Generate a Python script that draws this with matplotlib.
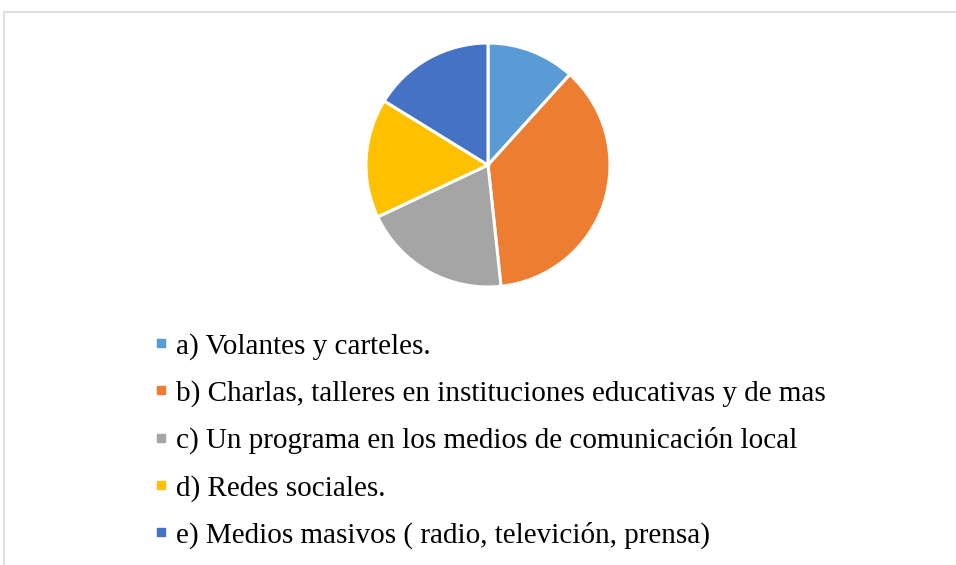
import matplotlib
import matplotlib.pyplot as plt
from matplotlib.lines import Line2D
from matplotlib.patches import Rectangle

matplotlib.rc("font", family="Liberation Serif")

# Data (share of answers)
labels = [
    "a) Volantes y carteles.",
    "b) Charlas, talleres en instituciones educativas y de mas",
    "c) Un programa en los medios de comunicación local",
    "d) Redes sociales.",
    "e) Medios masivos ( radio, televición, prensa)",
]
values = [11.7, 36.6, 19.7, 15.8, 16.2]
colors = ["#5B9BD5", "#ED7D31", "#A5A5A5", "#FFC000", "#4472C4"]

W, H = 956, 565
fig = plt.figure(figsize=(W / 100, H / 100), dpi=100)

# chart frame (only top and left edges visible in the crop)
fig.patches.append(
    Rectangle((4 / W, -0.1), 1.2, 1.1 - 12 / H, transform=fig.transFigure,
              fill=False, edgecolor="#D9D9D9", linewidth=1.2)
)

# Pie
cx, cy, r = 488, 165, 122
ax = fig.add_axes([(cx - r) / W, 1 - (cy + r) / H, 2 * r / W, 2 * r / H])
ax.pie(values, colors=colors, startangle=90, counterclock=False,
       wedgeprops={"edgecolor": "white", "linewidth": 2.2}, radius=1)
ax.set_xlim(-1, 1)
ax.set_ylim(-1, 1)
ax.set_aspect("auto")

# Legend
handles = [Line2D([], [], marker="s", linestyle="", markersize=6,
                  markerfacecolor=c, markeredgecolor=c) for c in colors]
fig.legend(handles, labels, loc="upper left",
           bbox_to_anchor=(152 / W, 1 - 333 / H), frameon=False,
           fontsize=21, labelspacing=0.69, handlelength=0.6,
           handletextpad=0.22, borderpad=0, borderaxespad=0)

fig.savefig("out.png", dpi=100)
